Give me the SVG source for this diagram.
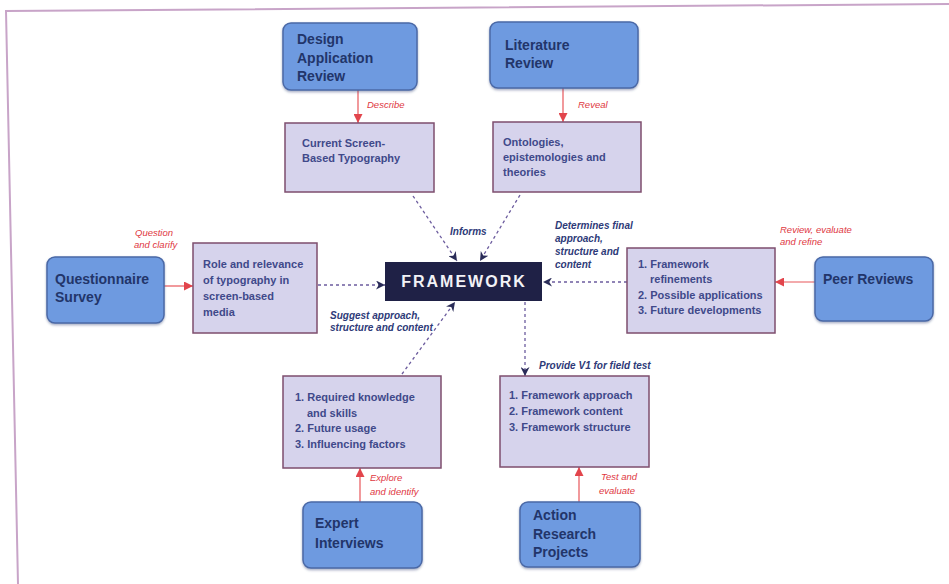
<svg xmlns="http://www.w3.org/2000/svg" width="949" height="584" viewBox="0 0 949 584">
  <style>
    .src rect { fill: #6e9ae0; stroke: #4a68a6; stroke-width: 1.5; }
    .src text { font-family: "Liberation Sans", Arial, sans-serif; font-weight: bold; font-size: 14px; fill: #22356a; }
    .out rect { fill: #d6d3ec; stroke: #7e4e6e; stroke-width: 1.5; }
    .out text { font-family: "Liberation Sans", Arial, sans-serif; font-weight: bold; font-size: 11px; fill: #40498a; }
    .lbl-red { font-family: "Liberation Sans", Arial, sans-serif; font-style: italic; font-size: 9.5px; fill: #e0383f; }
    .lbl-navy { font-family: "Liberation Sans", Arial, sans-serif; font-style: italic; font-weight: bold; font-size: 10px; fill: #2e3a78; }
    .red { stroke: #e8565a; stroke-width: 1.2; fill: none; }
    .dash { stroke: #6c5c9e; stroke-width: 1.3; stroke-dasharray: 3 3; fill: none; }
  </style>
  <defs>
    <marker id="arrRed" viewBox="0 0 10 10" refX="10" refY="5" markerWidth="9" markerHeight="9" markerUnits="userSpaceOnUse" orient="auto">
      <path d="M0,0 L10,5 L0,10 Z" fill="#e2454c"/>
    </marker>
    <marker id="arrNavy" viewBox="0 0 10 10" refX="10" refY="5" markerWidth="9" markerHeight="9" markerUnits="userSpaceOnUse" orient="auto">
      <path d="M0,0 L10,5 L0,10 L3,5 Z" fill="#2a2c58"/>
    </marker>
    <filter id="shadow" x="-10%" y="-10%" width="120%" height="130%">
      <feDropShadow dx="0" dy="1.5" stdDeviation="1" flood-color="#3a4a7a" flood-opacity="0.45"/>
    </filter>
  </defs>

  <rect x="0" y="0" width="949" height="584" fill="#ffffff"/>
  <!-- page frame -->
  <polyline points="949,4 6,11 18,584" fill="none" stroke="#c8a4c8" stroke-width="2"/>

  <!-- connectors -->
  <g id="connectors">
    <line class="red" x1="358" y1="90" x2="358" y2="123" marker-end="url(#arrRed)"/>
    <line class="red" x1="563" y1="88" x2="563" y2="122" marker-end="url(#arrRed)"/>
    <line class="red" x1="164" y1="286" x2="193" y2="286" marker-end="url(#arrRed)"/>
    <line class="red" x1="815" y1="282" x2="775" y2="282" marker-end="url(#arrRed)"/>
    <line class="red" x1="360" y1="502" x2="360" y2="468" marker-end="url(#arrRed)"/>
    <line class="red" x1="579" y1="502" x2="579" y2="467" marker-end="url(#arrRed)"/>

    <line class="dash" x1="413" y1="196" x2="457" y2="261" marker-end="url(#arrNavy)"/>
    <line class="dash" x1="520" y1="195" x2="480" y2="261" marker-end="url(#arrNavy)"/>
    <line class="dash" x1="318" y1="285" x2="385" y2="285" marker-end="url(#arrNavy)"/>
    <line class="dash" x1="627" y1="282" x2="543" y2="282" marker-end="url(#arrNavy)"/>
    <line class="dash" x1="525" y1="302" x2="525" y2="376" marker-end="url(#arrNavy)"/>
    <line class="dash" x1="402" y1="374" x2="455" y2="302" marker-end="url(#arrNavy)"/>

    <text class="lbl-red" x="367" y="108">Describe</text>
    <text class="lbl-red" x="578" y="108">Reveal</text>
    <text class="lbl-red" x="135" y="236">Question</text>
    <text class="lbl-red" x="134" y="248">and clarify</text>
    <text class="lbl-red" x="780" y="233">Review, evaluate</text>
    <text class="lbl-red" x="780" y="245">and refine</text>
    <text class="lbl-red" x="370" y="481">Explore</text>
    <text class="lbl-red" x="370" y="495">and identify</text>
    <text class="lbl-red" x="601" y="480">Test and</text>
    <text class="lbl-red" x="599" y="494">evaluate</text>

    <text class="lbl-navy" x="450" y="235">Informs</text>
    <text class="lbl-navy" x="555" y="229">Determines final</text>
    <text class="lbl-navy" x="555" y="242">approach,</text>
    <text class="lbl-navy" x="555" y="255">structure and</text>
    <text class="lbl-navy" x="555" y="268">content</text>
    <text class="lbl-navy" x="330" y="319">Suggest approach,</text>
    <text class="lbl-navy" x="330" y="331">structure and content</text>
    <text class="lbl-navy" x="539" y="369">Provide V1 for field test</text>
  </g>

  <!-- central node -->
  <g id="framework">
    <rect x="385" y="262" width="157" height="39" fill="#1f2146"/>
    <text x="464" y="287" text-anchor="middle" font-family="Liberation Sans, Arial, sans-serif" font-weight="bold" font-size="16" letter-spacing="2" fill="#f2f2f6">FRAMEWORK</text>
  </g>

  <!-- source nodes -->
  <g id="design-application-review" class="src">
    <rect x="283" y="23" width="134" height="67" rx="8" filter="url(#shadow)"/>
    <text x="297" y="44">Design</text>
    <text x="297" y="63">Application</text>
    <text x="297" y="81">Review</text>
  </g>
  <g id="literature-review" class="src">
    <rect x="490" y="22" width="148" height="66" rx="8" filter="url(#shadow)"/>
    <text x="505" y="50">Literature</text>
    <text x="505" y="68">Review</text>
  </g>
  <g id="questionnaire-survey" class="src">
    <rect x="47" y="257" width="117" height="66" rx="8" filter="url(#shadow)"/>
    <text x="55" y="284">Questionnaire</text>
    <text x="55" y="302">Survey</text>
  </g>
  <g id="peer-reviews" class="src">
    <rect x="815" y="257" width="118" height="64" rx="8" filter="url(#shadow)"/>
    <text x="823" y="284" font-size="14.5">Peer Reviews</text>
  </g>
  <g id="expert-interviews" class="src">
    <rect x="303" y="502" width="119" height="66" rx="8" filter="url(#shadow)"/>
    <text x="315" y="528">Expert</text>
    <text x="315" y="548">Interviews</text>
  </g>
  <g id="action-research-projects" class="src">
    <rect x="520" y="502" width="120" height="65" rx="8" filter="url(#shadow)"/>
    <text x="533" y="520">Action</text>
    <text x="533" y="539">Research</text>
    <text x="533" y="557">Projects</text>
  </g>

  <!-- outcome nodes -->
  <g id="current-typography" class="out">
    <rect x="285" y="123" width="149" height="69"/>
    <text x="302" y="147">Current Screen-</text>
    <text x="302" y="162">Based Typography</text>
  </g>
  <g id="ontologies" class="out">
    <rect x="493" y="122" width="148" height="70"/>
    <text x="503" y="146">Ontologies,</text>
    <text x="503" y="161">epistemologies and</text>
    <text x="503" y="176">theories</text>
  </g>
  <g id="role-relevance" class="out">
    <rect x="193" y="243" width="124" height="90"/>
    <text x="203" y="268">Role and relevance</text>
    <text x="203" y="284">of typography in</text>
    <text x="203" y="300">screen-based</text>
    <text x="203" y="316">media</text>
  </g>
  <g id="framework-refinements" class="out">
    <rect x="627" y="248" width="148" height="85"/>
    <text x="638" y="268">1. Framework</text>
    <text x="650" y="283">refinements</text>
    <text x="638" y="299">2. Possible applications</text>
    <text x="638" y="314">3. Future developments</text>
  </g>
  <g id="required-knowledge" class="out">
    <rect x="283" y="376" width="158" height="92"/>
    <text x="295" y="401">1. Required knowledge</text>
    <text x="307" y="417">and skills</text>
    <text x="295" y="432">2. Future usage</text>
    <text x="295" y="448">3. Influencing factors</text>
  </g>
  <g id="framework-components" class="out">
    <rect x="500" y="376" width="149" height="91"/>
    <text x="509" y="399">1. Framework approach</text>
    <text x="509" y="415">2. Framework content</text>
    <text x="509" y="431">3. Framework structure</text>
  </g>
</svg>
